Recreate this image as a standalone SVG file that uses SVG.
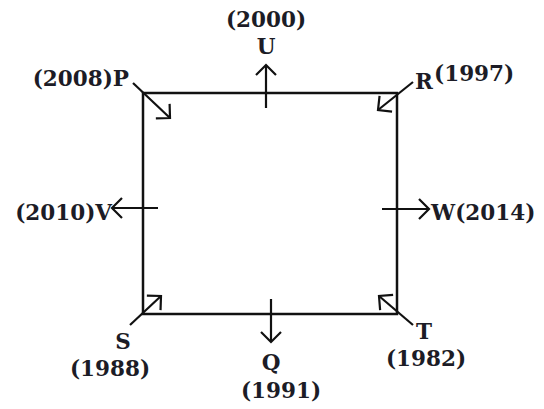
<svg xmlns="http://www.w3.org/2000/svg" width="544" height="409" viewBox="0 0 544 409">
<style>
.lbl{font-family:"DejaVu Serif","Liberation Serif",serif;font-weight:bold;font-size:21.5px;fill:#1c1c26}
.c{text-anchor:middle}
.e{text-anchor:end}
.edge{stroke:#111;stroke-width:2.5;fill:none}
.arr{stroke:#111;stroke-width:2.2;fill:none;marker-end:url(#ah)}
</style>
<defs>
<marker id="ah" markerUnits="userSpaceOnUse" viewBox="-15 -15 30 30" markerWidth="30" markerHeight="30" refX="0" refY="0" orient="auto">
<path d="M-10,-10 L0,0 L-10,10" fill="none" stroke="#111" stroke-width="2.2"/>
</marker>
</defs>
<rect id="box" class="edge" x="143" y="93" width="254" height="221"/>
<g id="connectors">
<line class="arr" x1="133" y1="83" x2="170" y2="118"/>
<line class="arr" x1="413" y1="82" x2="378" y2="110"/>
<line class="arr" x1="130" y1="325" x2="161" y2="296"/>
<line class="arr" x1="413" y1="325" x2="379" y2="296"/>
<line class="arr" x1="266" y1="108" x2="266" y2="65"/>
<line class="arr" x1="271" y1="299" x2="271" y2="342"/>
<line class="arr" x1="158" y1="208" x2="112" y2="208"/>
<line class="arr" x1="382" y1="209" x2="429" y2="209"/>
</g>
<g id="U"><text class="lbl c" x="266" y="27">(2000)</text><text class="lbl c" x="266" y="54">U</text></g>
<g id="P"><text class="lbl e" x="129" y="86">(2008)P</text></g>
<g id="R"><text class="lbl" x="415" y="89">R</text><text class="lbl" x="434" y="81">(1997)</text></g>
<g id="V"><text class="lbl e" x="112" y="220">(2010)V</text></g>
<g id="W"><text class="lbl" x="431" y="220">W(2014)</text></g>
<g id="S"><text class="lbl c" x="123" y="349">S</text><text class="lbl c" x="110" y="376">(1988)</text></g>
<g id="Q"><text class="lbl c" x="271" y="370">Q</text><text class="lbl c" x="281" y="398">(1991)</text></g>
<g id="T"><text class="lbl c" x="424" y="339">T</text><text class="lbl c" x="426" y="366">(1982)</text></g>
</svg>
